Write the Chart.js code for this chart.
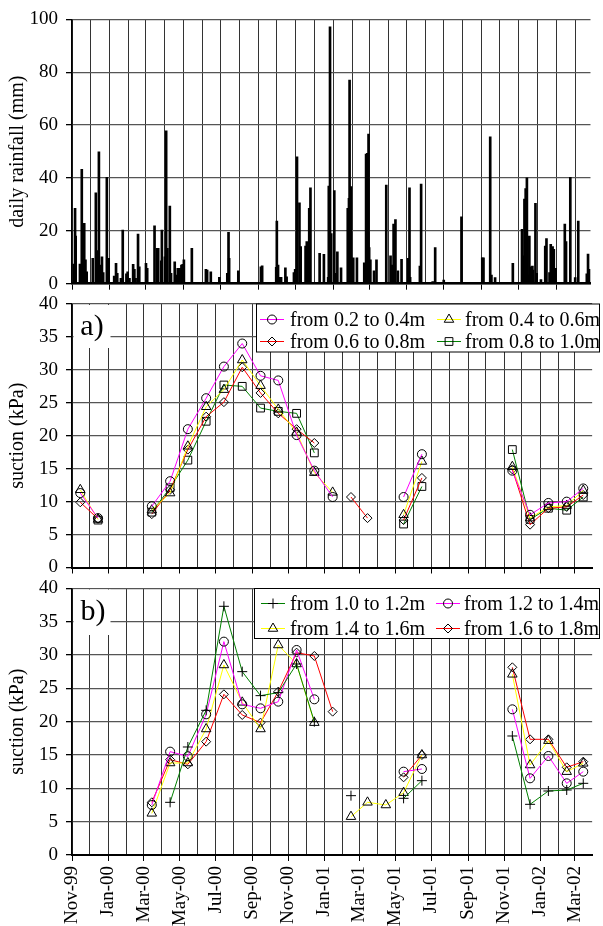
<!DOCTYPE html>
<html>
<head>
<meta charset="utf-8">
<script src="https://cdn.jsdelivr.net/npm/chart.js@4.4.1/dist/chart.umd.min.js"></script>
<style>
  html, body { margin: 0; padding: 0; background: #fff; }
  #wrap { position: relative; width: 603px; height: 926px; overflow: hidden; }
  #wrap canvas { position: absolute; left: 0; top: 0; }
</style>
</head>
<body>
<div id="wrap">
  <canvas id="rain" width="603" height="926"></canvas>
  <canvas id="suctionA" width="603" height="926"></canvas>
  <canvas id="suctionB" width="603" height="926"></canvas>
</div>
<script>
// ---- data ----
// daily rainfall, day = days counted from 1 Nov 1999
const rainDay = [3, 5, 6, 13, 16, 18, 20, 22, 24, 34, 39, 41, 44, 46, 49, 51, 57, 60, 69, 72, 74, 80, 83, 89, 91, 94,
  100, 102, 104, 108, 110, 121, 123, 135, 139, 141, 146, 147, 152, 154, 156, 160, 162, 168, 170, 173, 176, 179, 181, 183,
  196, 219, 221, 227, 241, 254, 256, 257, 272, 309, 311, 334, 335, 337, 339, 342, 349, 351, 363, 365, 368, 372, 374,
  382, 384, 386, 388, 390, 405, 412, 419, 420, 422, 424, 429, 431, 434, 440, 451, 453, 454, 456, 458, 460, 466,
  478, 481, 483, 485, 486, 488, 494, 498, 514, 521, 524, 526, 529, 533, 539, 550, 552, 553, 569, 571, 590, 594,
  608, 637, 671, 673, 684, 686, 692, 721, 736, 738, 740, 742, 744, 746, 748, 751, 753, 754, 758, 760, 767, 774,
  776, 781, 783, 786, 788, 791, 806, 808, 815, 823, 828, 831, 842, 844, 846];
const rainMm = [7.4, 28.5, 18, 7.4, 43.3, 21.6, 22.8, 9, 4.5, 9.6, 34.4, 12.5, 49.9, 7, 10.2, 4.2, 40.2, 9.6, 2.9, 7.7, 3.9, 2, 20.3, 3.7, 4.5, 2,
  7.3, 5.4, 2, 18.8, 6.4, 7.7, 5.8, 21.9, 13.4, 13.4, 8.7, 20.3, 10.2, 57.8, 13.4, 29.4, 3.9, 8.3, 3.3, 5.8, 5.8, 7, 7.3, 9,
  13.4, 5.4, 5.2, 4.5, 2.4, 3.9, 19.4, 9.6, 4.9, 6.4, 6.8, 6.2, 23.7, 7, 2.4, 2.4, 6, 2.6, 4.2, 5.4, 48, 30.6, 14,
  14.2, 15.9, 7.7, 28.5, 36.3, 11.5, 11.1, 2.4, 36.9, 97.2, 19, 35.2, 3.9, 12.1, 6, 28.5, 32.3, 77, 36.7, 2.6, 9.8, 9.8,
  7.9, 49, 49.3, 56.6, 13.7, 9, 4.9, 9, 37.3, 10.5, 7, 22.6, 24.3, 4.9, 9.2, 9.6, 36.3, 2.4, 6.7, 37.7, 0.8, 13.7,
  1.4, 25.3, 9.8, 9.8, 55.6, 3.3, 2.3, 7.7, 20.6, 10.5, 32, 36, 40.1, 3.3, 18, 6.4, 6.7, 5.2, 30.4, 3.9, 1.6, 14.2,
  17.1, 4.2, 14.9, 14, 13, 5.8, 22.6, 15.9, 40.2, 2.3, 23.7, 0.4, 3.7, 11.2, 5.4];

// suction (kPa), panel a)
const datesA = ['1999-11-15', '1999-12-15', '2000-03-15', '2000-04-15', '2000-05-15', '2000-06-15', '2000-07-15',
  '2000-08-15', '2000-09-15', '2000-10-15', '2000-11-15', '2000-12-15', '2001-01-15', '2001-02-15', '2001-03-15',
  '2001-05-15', '2001-06-15', '2001-11-15', '2001-12-15', '2002-01-15', '2002-02-15', '2002-03-15'];
const suc02to04 = [11.3, 7.5, 9.3, 13.1, 21.0, 25.7, 30.5, 34.0, 29.1, 28.4, 20.1, 14.7, 10.7, null, null, 10.7, 17.2, 14.7, 8.0, 9.8, 10.0, 12.0];
const suc04to06 = [11.8, 7.3, 8.7, 11.3, 18.4, 24.4, 27.0, 31.5, 27.6, 24.0, 20.5, 14.4, 11.4, null, null, 8.0, 16.1, 15.3, 7.5, 9.2, 9.4, 11.7];
const suc06to08 = [9.9, 7.4, 8.1, 11.8, 17.9, 22.9, 25.1, 30.4, 26.5, 23.4, 21.0, 18.9, null, 10.7, 7.5, 7.2, 13.6, 14.9, 6.5, 9.0, 9.2, 11.0];
const suc08to10 = [null, 7.2, 8.4, 12.1, 16.3, 22.2, 27.7, 27.5, 24.2, 23.7, 23.4, 17.4, null, null, null, 6.6, 12.3, 17.9, 7.3, 9.0, 8.7, 10.7];

// suction (kPa), panel b)
const datesB = ['2000-03-15', '2000-04-15', '2000-05-15', '2000-06-15', '2000-07-15', '2000-08-15', '2000-09-15',
  '2000-10-15', '2000-11-15', '2000-12-15', '2001-01-15', '2001-02-15', '2001-03-15', '2001-04-15', '2001-05-15',
  '2001-06-15', '2001-11-15', '2001-12-15', '2002-01-15', '2002-02-15', '2002-03-15'];
const suc10to12 = [null, 7.9, 16.2, 21.7, 37.3, 27.5, 23.9, 24.35, 28.65, 20.0, null, 8.9, null, null, 8.5, 11.15, 17.85, 7.6, 9.6, 9.75, 10.75];
const suc12to14 = [7.5, 15.5, 14.8, 21.1, 32.0, 22.6, 22.0, 23.0, 30.75, 23.35, null, null, null, null, 12.5, 12.9, 21.85, 11.5, 14.85, 10.75, 12.5];
const suc14to16 = [6.25, 13.8, 13.8, 18.9, 28.5, 22.9, 18.9, 31.5, 28.65, 19.85, null, 5.75, 7.9, 7.5, 9.35, 15.0, 27.1, 13.5, 17.15, 12.5, 13.75];
const suc16to18 = [7.9, 14.3, 13.6, 17.0, 24.1, 21.0, 19.85, 24.5, 30.35, 29.85, 21.5, null, null, null, 11.65, 15.0, 28.15, 17.35, 17.35, 13.15, 14.0];

// tick labels
const dateTickLabels = ['Nov-99', 'Jan-00', 'Mar-00', 'May-00', 'Jul-00', 'Sep-00', 'Nov-00', 'Jan-01',
  'Mar-01', 'May-01', 'Jul-01', 'Sep-01', 'Nov-01', 'Jan-02', 'Mar-02'];
const rainTicks = [0, 20, 40, 60, 80, 100];
const suctionTicks = [0, 5, 10, 15, 20, 25, 30, 35, 40];

// ---- helpers ----
const START = Date.UTC(1999, 10, 1);
const DAY = 86400000;
const MON = ['Jan', 'Feb', 'Mar', 'Apr', 'May', 'Jun', 'Jul', 'Aug', 'Sep', 'Oct', 'Nov', 'Dec'];

function dayOf(s) {
  const [y, m, d] = s.split('-').map(Number);
  return (Date.UTC(y, m - 1, d) - START) / DAY;
}

function monthLabel(d) {
  const dt = new Date(START + d * DAY);
  return MON[dt.getUTCMonth()] + '-' + String(dt.getUTCFullYear() % 100).padStart(2, '0');
}

// every month gets a grid line, only the listed ones get a label
function monthTicks(max) {
  const t = [];
  for (let m = 0; ; m++) {
    const d = (Date.UTC(1999, 10 + m, 1) - START) / DAY;
    if (d > max) break;
    t.push(d);
  }
  return t;
}

// break the line when there is a long pause between two readings
function series(dates, vals) {
  const pts = [];
  dates.forEach((d, i) => {
    const x = dayOf(d);
    if (pts.length && x - pts[pts.length - 1].x > 45) pts.push({ x: x - 1, y: null });
    pts.push({ x: x, y: vals[i] });
  });
  return pts;
}

Chart.defaults.font.family = '"Liberation Serif", "Times New Roman", Times, serif';
Chart.defaults.color = '#000';

function xScale(max, height, showLabels, borderW) {
  const ticks = monthTicks(max);
  return {
    type: 'linear', min: 0, max: max, offset: false,
    afterBuildTicks: s => { s.ticks = ticks.map(v => ({ value: v })); },
    afterFit: s => { s.height = height; },
    grid: {
      color: '#333', lineWidth: 1, offset: false, tickLength: 6,
      tickColor: c => dateTickLabels.includes(monthLabel(ticks[c.index])) ? '#000' : 'rgba(0,0,0,0)'
    },
    border: { color: '#000', width: borderW },
    ticks: {
      autoSkip: false, maxRotation: 90, minRotation: 90, padding: 5, font: { size: 19 },
      callback: v => {
        const l = monthLabel(v);
        return showLabels && dateTickLabels.includes(l) ? l : '';
      }
    }
  };
}

function yScale(tickVals, title) {
  return {
    min: tickVals[0], max: tickVals[tickVals.length - 1],
    afterBuildTicks: s => { s.ticks = tickVals.map(v => ({ value: v })); },
    afterFit: s => { s.width = 72; },
    grid: { color: '#555', lineWidth: 1.3, tickLength: 6, tickColor: '#000' },
    border: { color: '#000', width: 1.5 },
    ticks: { padding: 8, font: { size: 19 } },
    title: { display: true, text: title, font: { size: 20 }, padding: { top: 6, bottom: 0 } }
  };
}

// panel letter and legend box
const panelExtras = {
  id: 'panelExtras',
  afterDraw(chart, args, o) {
    const ctx = chart.ctx;
    ctx.save();
    ctx.fillStyle = '#fff';
    ctx.fillRect(o.tag.x, o.tag.y, o.tag.w, o.tag.h);
    ctx.fillStyle = '#000';
    ctx.font = '30px "Liberation Serif", "Times New Roman", serif';
    ctx.textAlign = 'center';
    ctx.textBaseline = 'middle';
    ctx.fillText(o.tag.text, o.tag.tx, o.tag.ty);

    const b = o.box;
    ctx.fillStyle = '#fff';
    ctx.fillRect(b.x, b.y, b.w, b.h);
    ctx.strokeStyle = '#000';
    ctx.lineWidth = 1;
    ctx.strokeRect(b.x, b.y, b.w, b.h);
    ctx.font = '20px "Liberation Serif", "Times New Roman", serif';
    ctx.textAlign = 'left';
    chart.data.datasets.forEach((ds, i) => {
      const col = i % 2, row = Math.floor(i / 2);
      const mx = b.mx[col], y = b.rows[row];
      ctx.strokeStyle = ds.borderColor;
      ctx.lineWidth = 1;
      ctx.beginPath();
      ctx.moveTo(mx - 12, y);
      ctx.lineTo(mx + 12, y);
      ctx.stroke();
      ctx.strokeStyle = '#000';
      ctx.fillStyle = 'rgba(0,0,0,0)';
      Chart.helpers.drawPoint(ctx, { pointStyle: ds.pointStyle, radius: ds.pointRadius, borderWidth: 1, rotation: 0 }, mx, y);
      ctx.fillStyle = '#000';
      ctx.fillText(ds.label, b.tx[col], y + 1);
    });
    ctx.restore();
  }
};

function line(label, dates, vals, color, style, r) {
  return {
    label: label, data: series(dates, vals), borderColor: color, borderWidth: 1,
    pointStyle: style, pointRadius: r, pointBorderColor: '#000', pointBackgroundColor: 'rgba(0,0,0,0)',
    pointBorderWidth: 1, spanGaps: false, tension: 0
  };
}

const common = {
  responsive: false, animation: false, events: [],
  plugins: { legend: { display: false }, tooltip: { enabled: false } }
};

// ---- rainfall ----
new Chart(document.getElementById('rain'), {
  type: 'bar',
  data: {
    datasets: [{
      data: rainDay.map((d, i) => ({ x: d, y: rainMm[i] })),
      backgroundColor: '#000', barThickness: 2, grouped: false
    }]
  },
  options: Object.assign({}, common, {
    layout: { padding: { top: 19.3, left: 0, right: 0, bottom: 636 } },
    scales: { x: xScale(848, 6.3, false, 2.5), y: yScale(rainTicks, 'daily rainfall (mm)') }
  })
});

// ---- suction a) ----
new Chart(document.getElementById('suctionA'), {
  type: 'line',
  data: {
    datasets: [
      line('from 0.2 to 0.4m', datesA, suc02to04, '#ff00ff', 'circle', 4.5),
      line('from 0.4 to 0.6m', datesA, suc04to06, '#ffff00', 'triangle', 5.5),
      line('from 0.6 to 0.8m', datesA, suc06to08, '#ff0000', 'rectRot', 4.5),
      line('from 0.8 to 1.0m', datesA, suc08to10, '#008000', 'rect', 5.5)
    ]
  },
  options: Object.assign({}, common, {
    layout: { padding: { top: 304, left: 0, right: 0, bottom: 352 } },
    scales: { x: xScale(880, 6.5, false, 2), y: yScale(suctionTicks, 'suction (kPa)') },
    plugins: Object.assign({}, common.plugins, {
      panelExtras: {
        tag: { x: 73.5, y: 305, w: 37, h: 43, text: 'a)', tx: 92, ty: 327 },
        box: { x: 256.5, y: 304, w: 343, h: 48, mx: [272, 449], tx: [290, 465], rows: [319.5, 341.5] }
      }
    })
  }),
  plugins: [panelExtras]
});

// ---- suction b) ----
new Chart(document.getElementById('suctionB'), {
  type: 'line',
  data: {
    datasets: [
      line('from 1.0 to 1.2m', datesB, suc10to12, '#008000', 'cross', 5),
      line('from 1.2 to 1.4m', datesB, suc12to14, '#ff00ff', 'circle', 4.5),
      line('from 1.4 to 1.6m', datesB, suc14to16, '#ffff00', 'triangle', 5.5),
      line('from 1.6 to 1.8m', datesB, suc16to18, '#ff0000', 'rectRot', 4.5)
    ]
  },
  options: Object.assign({}, common, {
    layout: { padding: { top: 588.3, left: 0, right: 0, bottom: 0 } },
    scales: { x: xScale(880, 71, true, 2), y: yScale(suctionTicks, 'suction (kPa)') },
    plugins: Object.assign({}, common.plugins, {
      panelExtras: {
        tag: { x: 73.5, y: 589.5, w: 37, h: 45.5, text: 'b)', tx: 93, ty: 612 },
        box: { x: 254.5, y: 588.5, w: 345, h: 50, mx: [273, 448], tx: [290, 464], rows: [603.5, 628.5] }
      }
    })
  }),
  plugins: [panelExtras]
});
</script>
</body>
</html>
